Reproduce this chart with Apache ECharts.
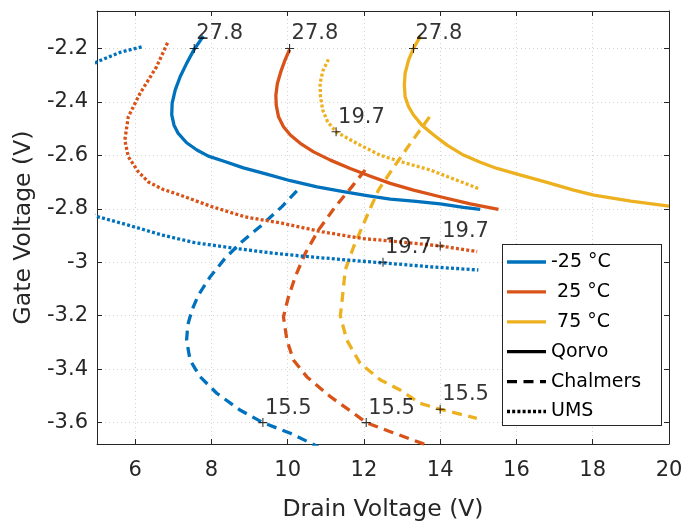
<!DOCTYPE html>
<html>
<head>
<meta charset="utf-8">
<script src="https://cdn.jsdelivr.net/npm/echarts@6/dist/echarts.min.js"></script>
<style>
  html, body { margin: 0; padding: 0; background: #fff; }
  #chart { width: 681px; height: 523px; }
</style>
</head>
<body>
<div id="chart"></div>
<script>
// Axis ticks
const xTicks = [6, 8, 10, 12, 14, 16, 18, 20];
const yTicks = [-3.6, -3.4, -3.2, -3, -2.8, -2.6, -2.4, -2.2];

// Qorvo (solid) contours: [drain V, gate V]
const qorvoCold = [[7.79,-2.154],[7.55,-2.203],[7.35,-2.256],[7.18,-2.306],[7.05,-2.356],[6.97,-2.406],[6.96,-2.449],[7.02,-2.487],[7.13,-2.518],[7.35,-2.553],[7.62,-2.580],[7.92,-2.603],[8.31,-2.621],[8.84,-2.647],[9.45,-2.670],[10.07,-2.695],[10.77,-2.718],[11.46,-2.736],[12.08,-2.751],[12.69,-2.764],[13.30,-2.771],[14.0,-2.782],[14.61,-2.795],[15.05,-2.802]];
const qorvoRoom = [[10.05,-2.204],[9.93,-2.244],[9.82,-2.287],[9.73,-2.331],[9.69,-2.375],[9.70,-2.412],[9.76,-2.456],[9.89,-2.493],[10.07,-2.524],[10.33,-2.555],[10.68,-2.587],[11.12,-2.618],[11.64,-2.649],[12.17,-2.678],[12.69,-2.705],[13.30,-2.730],[14.0,-2.755],[14.79,-2.782],[15.53,-2.802]];
const qorvoHot = [[13.48,-2.154],[13.30,-2.2],[13.17,-2.244],[13.08,-2.293],[13.06,-2.337],[13.08,-2.381],[13.17,-2.418],[13.30,-2.449],[13.52,-2.487],[13.83,-2.524],[14.18,-2.562],[14.61,-2.599],[15.05,-2.626],[15.49,-2.649],[16.02,-2.670],[16.80,-2.701],[17.50,-2.730],[18.03,-2.749],[19.0,-2.771],[20.0,-2.790]];

// Chalmers (dashed) contours
const chalmersCold = [[10.24,-2.733],[9.85,-2.792],[9.32,-2.861],[8.80,-2.923],[8.36,-2.985],[7.97,-3.054],[7.66,-3.123],[7.49,-3.179],[7.38,-3.235],[7.35,-3.291],[7.44,-3.366],[7.70,-3.428],[8.14,-3.490],[8.75,-3.553],[9.35,-3.600],[10.07,-3.640],[10.80,-3.690]];
const chalmersRoom = [[12.03,-2.655],[11.68,-2.718],[11.25,-2.792],[10.81,-2.879],[10.46,-2.967],[10.20,-3.054],[10.01,-3.135],[9.89,-3.204],[9.98,-3.291],[10.15,-3.366],[10.50,-3.428],[11.12,-3.503],[11.73,-3.565],[12.06,-3.600],[12.69,-3.634],[13.65,-3.684]];
const chalmersHot = [[13.72,-2.456],[13.22,-2.555],[12.73,-2.655],[12.38,-2.730],[12.03,-2.843],[11.73,-2.942],[11.51,-3.029],[11.42,-3.154],[11.38,-3.200],[11.55,-3.291],[11.90,-3.378],[12.43,-3.440],[12.95,-3.478],[13.48,-3.528],[14.0,-3.550],[14.96,-3.584]];

// UMS (dotted) contours
const umsCold = [[6.17,-2.194],[5.60,-2.215],[5.00,-2.250],[4.40,-2.310],[3.90,-2.450],[3.80,-2.600],[4.10,-2.740],[4.50,-2.800],[5.03,-2.830],[5.82,-2.861],[6.70,-2.898],[7.57,-2.927],[8.62,-2.948],[9.50,-2.964],[10.37,-2.977],[11.60,-2.992],[12.47,-3.002],[13.74,-3.017],[15.0,-3.029]];
const umsRoom = [[6.85,-2.179],[6.56,-2.269],[6.13,-2.368],[5.82,-2.456],[5.73,-2.543],[5.82,-2.605],[6.08,-2.661],[6.35,-2.700],[6.74,-2.728],[7.05,-2.742],[8.01,-2.792],[8.88,-2.830],[9.85,-2.854],[10.90,-2.886],[11.95,-2.911],[12.65,-2.920],[14.0,-2.939],[14.97,-2.960]];
const umsHot = [[11.07,-2.241],[10.92,-2.285],[10.85,-2.331],[10.86,-2.380],[10.92,-2.431],[11.05,-2.475],[11.27,-2.512],[11.81,-2.555],[12.43,-2.600],[13.0,-2.625],[13.74,-2.655],[15.0,-2.724]];

// Annotated points and their labels
const marks278 = [[7.55,-2.2],[10.05,-2.2],[13.30,-2.2]];
const marks197 = [[11.27,-2.512],[14.0,-2.939],[12.5,-3.0]];
const marks155 = [[9.35,-3.6],[12.06,-3.6],[14.0,-3.55]];
const markLabels = ['27.8', '19.7', '15.5'];

const COLORS = { cold: '#0072BD', room: '#D95319', hot: '#EDB120' };
const DASHES = { solid: null, dashed: [10, 6.5], dotted: [3, 2.2] };
const LINE_W = 3.3;
const FONT = 'DejaVu Sans';
const INK = '#262626';
const LEGEND_Z = 100;

function contour(name, data, color, dash) {
  return {
    type: 'line', name, data, showSymbol: false, symbol: 'none',
    clip: true, silent: true, z: 3,
    lineStyle: { color, width: LINE_W, type: dash || 'solid', cap: 'butt', join: 'round' }
  };
}

const markSeriesData = [];
[marks278, marks197, marks155].forEach((arr, i) => {
  arr.forEach(p => markSeriesData.push([p[0], p[1], markLabels[i]]));
});

const series = [
  contour('Qorvo -25 °C', qorvoCold, COLORS.cold, DASHES.solid),
  contour('Qorvo 25 °C', qorvoRoom, COLORS.room, DASHES.solid),
  contour('Qorvo 75 °C', qorvoHot, COLORS.hot, DASHES.solid),
  contour('Chalmers -25 °C', chalmersCold, COLORS.cold, DASHES.dashed),
  contour('Chalmers 25 °C', chalmersRoom, COLORS.room, DASHES.dashed),
  contour('Chalmers 75 °C', chalmersHot, COLORS.hot, DASHES.dashed),
  contour('UMS -25 °C', umsCold, COLORS.cold, DASHES.dotted),
  contour('UMS 25 °C', umsRoom, COLORS.room, DASHES.dotted),
  contour('UMS 75 °C', umsHot, COLORS.hot, DASHES.dotted),
  {
    type: 'scatter', name: 'marks', data: markSeriesData, z: 5, silent: true,
    symbol: 'path://M0,4.4H10V5.6H0Z M4.4,0H5.6V10H4.4Z', symbolSize: 9,
    itemStyle: { color: '#000' },
    label: {
      show: true, position: [6.5, -10], align: 'left', verticalAlign: 'middle',
      formatter: p => p.data[2], color: '#000', fontFamily: FONT, fontSize: 21
    }
  }
];

// Legend entries: colour rows, then line-style rows
const legendRows = [
  { text: '-25 °C', color: COLORS.cold, dash: DASHES.solid },
  { text: ' 25 °C', color: COLORS.room, dash: DASHES.solid },
  { text: ' 75 °C', color: COLORS.hot, dash: DASHES.solid },
  { text: 'Qorvo', color: '#000', dash: DASHES.solid },
  { text: 'Chalmers', color: '#000', dash: DASHES.dashed },
  { text: 'UMS', color: '#000', dash: DASHES.dotted }
];
// box outline drawn as a filled frame, kept above the grid lines
const legendChildren = [
  { type: 'rect', z: LEGEND_Z, shape: { x: 0, y: 0, width: 160, height: 182 }, style: { fill: INK } },
  { type: 'rect', z: LEGEND_Z, z2: 1, shape: { x: 1, y: 1, width: 158, height: 180 }, style: { fill: '#fff' } }
];
legendRows.forEach((r, i) => {
  const cy = 18 + i * 29.9;
  if (r.dash) {
    legendChildren.push({
      type: 'line', z: LEGEND_Z, z2: 2, shape: { x1: 5, y1: cy, x2: 44, y2: cy },
      style: { stroke: r.color, lineWidth: LINE_W, lineDash: r.dash, lineCap: 'butt' }
    });
  } else {
    // solid sample as a filled bar
    legendChildren.push({
      type: 'rect', z: LEGEND_Z, z2: 2, shape: { x: 5, y: cy - LINE_W / 2, width: 39, height: LINE_W },
      style: { fill: r.color }
    });
  }
  legendChildren.push({
    type: 'text', z: LEGEND_Z, z2: 2, x: 49, y: cy,
    style: { text: r.text, fill: '#000', font: '19px "' + FONT + '"', verticalAlign: 'middle', align: 'left' }
  });
});

const axisCommon = {
  type: 'value',
  axisLine: { show: true, onZero: false, lineStyle: { color: INK, width: 1 } },
  axisTick: { show: true, inside: true, length: 5, lineStyle: { color: INK, width: 1 } }
};

const option = {
  animation: false,
  backgroundColor: '#fff',
  grid: { left: 97, right: 12, top: 11, bottom: 79, containLabel: false, outerBoundsMode: 'none' },
  xAxis: [
    Object.assign({}, axisCommon, {
      min: 5, max: 20, position: 'bottom',
      axisTick: Object.assign({}, axisCommon.axisTick, { customValues: xTicks }),
      axisLabel: { customValues: xTicks, color: INK, fontFamily: FONT, fontSize: 21, margin: 16, formatter: v => String(v) },
      splitLine: { show: true, lineStyle: { color: '#d4d4d4', type: [1, 3], width: 1 } },
      name: 'Drain Voltage (V)', nameLocation: 'middle', nameGap: 54,
      nameTextStyle: { color: INK, fontFamily: FONT, fontSize: 23.5 }
    }),
    Object.assign({}, axisCommon, {
      min: 5, max: 20, position: 'top',
      axisTick: Object.assign({}, axisCommon.axisTick, { customValues: xTicks }),
      axisLabel: { show: false }, splitLine: { show: false }
    })
  ],
  yAxis: [
    Object.assign({}, axisCommon, {
      min: -3.68, max: -2.06, position: 'left',
      axisTick: Object.assign({}, axisCommon.axisTick, { customValues: yTicks }),
      axisLabel: { customValues: yTicks, color: INK, fontFamily: FONT, fontSize: 21, margin: 9, formatter: v => String(+v.toFixed(2)) },
      splitLine: { show: true, lineStyle: { color: '#d4d4d4', type: [1, 3], width: 1 } },
      name: 'Gate Voltage (V)', nameLocation: 'middle', nameGap: 58, nameRotate: 90,
      nameTextStyle: { color: INK, fontFamily: FONT, fontSize: 23.5 }
    }),
    Object.assign({}, axisCommon, {
      min: -3.68, max: -2.06, position: 'right',
      axisTick: Object.assign({}, axisCommon.axisTick, { customValues: yTicks }),
      axisLabel: { show: false }, splitLine: { show: false }
    })
  ],
  series,
  graphic: [{ type: 'group', left: 502, top: 244, z: LEGEND_Z, children: legendChildren }]
};

const chart = echarts.init(document.getElementById('chart'), null, { renderer: 'canvas', devicePixelRatio: 1 });
chart.setOption(option);
</script>
</body>
</html>
